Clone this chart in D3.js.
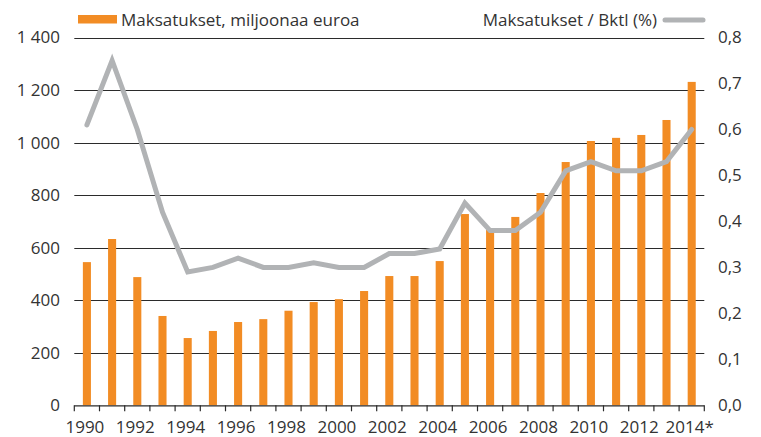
<!DOCTYPE html>
<html>
<head>
<meta charset="utf-8">
<script src="https://cdn.jsdelivr.net/npm/d3@7"></script>
<style>
  html, body { margin: 0; padding: 0; background: #fff; }
  svg text { font-family: "Open Sans", "Noto Sans", sans-serif; fill: #333; }
</style>
</head>
<body>
<svg id="chart" width="761" height="437"></svg>
<script>
// Annual payments (million euro) and payments relative to GNI (%)
const years = ["1990","1991","1992","1993","1994","1995","1996","1997","1998","1999",
               "2000","2001","2002","2003","2004","2005","2006","2007","2008","2009",
               "2010","2011","2012","2013","2014*"];
const payments = [545, 633, 488, 340, 256, 283, 317, 328, 360, 393,
                  404, 435, 492, 492, 549, 728, 668, 717, 808, 926,
                  1006, 1018, 1029, 1086, 1231];
const shareOfGni = [0.61, 0.75, 0.60, 0.42, 0.29, 0.30, 0.32, 0.30, 0.30, 0.31,
                    0.30, 0.30, 0.33, 0.33, 0.34, 0.44, 0.38, 0.38, 0.42, 0.51,
                    0.53, 0.51, 0.51, 0.53, 0.60];
const leftTicks = [0, 200, 400, 600, 800, 1000, 1200, 1400];
const rightTicks = [0, 0.1, 0.2, 0.3, 0.4, 0.5, 0.6, 0.7, 0.8];
const barLabel = "Maksatukset, miljoonaa euroa";
const lineLabel = "Maksatukset / Bktl (%)";

const orange = "#f28c24";
const grey = "#b1b3b5";
const fontSize = 17;

const svg = d3.select("#chart");
const plot = { left: 74.3, right: 704.3, top: 37.5, bottom: 405.3 };

const x = d3.scaleBand().domain(years).range([plot.left, plot.right]).padding(0);
const yL = d3.scaleLinear().domain([0, 1400]).range([plot.bottom, plot.top]);
const yR = d3.scaleLinear().domain([0, 0.8]).range([plot.bottom, plot.top]);

const fmtLeft = v => d3.format(",")(v).replace(/,/g, "\u00a0");
const fmtRight = v => d3.format(".1f")(v).replace(".", ",");

// horizontal gridlines
svg.append("g")
  .selectAll("line")
  .data(leftTicks.filter(d => d > 0))
  .join("line")
  .attr("x1", plot.left).attr("x2", plot.right)
  .attr("y1", d => Math.round(yL(d)) + 0.5).attr("y2", d => Math.round(yL(d)) + 0.5)
  .attr("stroke", "#2b2b2b").attr("stroke-width", 1.2);

// left axis labels
svg.append("g")
  .selectAll("text")
  .data(leftTicks)
  .join("text")
  .attr("x", 60).attr("y", d => yL(d))
  .attr("dy", "0.35em")
  .attr("text-anchor", "end")
  .attr("font-size", fontSize)
  .text(fmtLeft);

// right axis labels
svg.append("g")
  .selectAll("text")
  .data(rightTicks)
  .join("text")
  .attr("x", 718).attr("y", d => yR(d))
  .attr("dy", "0.35em")
  .attr("text-anchor", "start")
  .attr("font-size", fontSize)
  .text(fmtRight);

// bars
const barW = x.bandwidth() * 0.32;
svg.append("g")
  .selectAll("rect")
  .data(years.map((y, i) => ({ year: y, value: payments[i] })))
  .join("rect")
  .attr("x", d => x(d.year) + (x.bandwidth() - barW) / 2)
  .attr("width", barW)
  .attr("y", d => yL(d.value))
  .attr("height", d => yL(0) - yL(d.value))
  .attr("fill", orange);

// line for share of GNI
const line = d3.line()
  .x((d, i) => x(years[i]) + x.bandwidth() / 2)
  .y(d => yR(d));
svg.append("path")
  .datum(shareOfGni)
  .attr("d", line)
  .attr("fill", "none")
  .attr("stroke", grey)
  .attr("stroke-width", 5)
  .attr("stroke-linejoin", "miter")
  .attr("stroke-linecap", "round");

// bottom axis with ticks between years
const xAxis = svg.append("g");
xAxis.append("line")
  .attr("x1", plot.left).attr("x2", plot.right)
  .attr("y1", plot.bottom + 0.5).attr("y2", plot.bottom + 0.5)
  .attr("stroke", "#2b2b2b").attr("stroke-width", 1.2);
const boundaries = years.map(y => x(y)).concat([plot.right]);
xAxis.selectAll("line.tick")
  .data(boundaries)
  .join("line")
  .attr("class", "tick")
  .attr("x1", d => d).attr("x2", d => d)
  .attr("y1", plot.bottom).attr("y2", plot.bottom + 6)
  .attr("stroke", "#2b2b2b").attr("stroke-width", 1.2);
xAxis.selectAll("text")
  .data(years.filter((y, i) => i % 2 === 0))
  .join("text")
  .attr("x", d => x(d) + x.bandwidth() / 2 - 2)
  .attr("y", 433)
  .attr("text-anchor", "middle")
  .attr("font-size", fontSize)
  .text(d => d);

// legend
const legend = svg.append("g");
legend.append("rect")
  .attr("x", 78).attr("y", 15).attr("width", 39).attr("height", 8.5)
  .attr("fill", orange);
legend.append("text")
  .attr("x", 121).attr("y", 26)
  .attr("font-size", fontSize)
  .text(barLabel);
legend.append("text")
  .attr("x", 657).attr("y", 26)
  .attr("text-anchor", "end")
  .attr("font-size", fontSize)
  .text(lineLabel);
legend.append("line")
  .attr("x1", 665).attr("x2", 703)
  .attr("y1", 20).attr("y2", 20)
  .attr("stroke", grey).attr("stroke-width", 5)
  .attr("stroke-linecap", "round");
</script>
</body>
</html>
